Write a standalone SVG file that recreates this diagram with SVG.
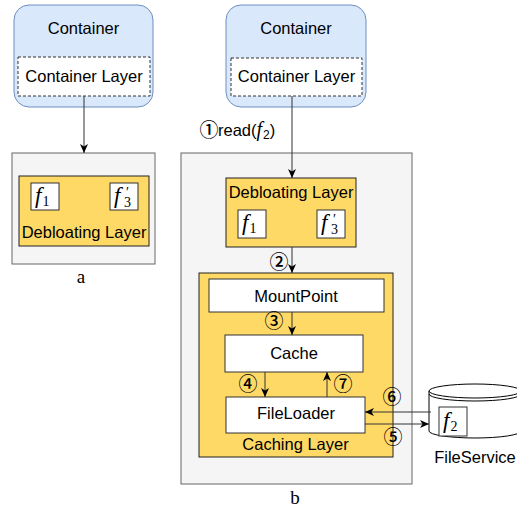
<svg xmlns="http://www.w3.org/2000/svg" width="517" height="510" viewBox="0 0 517 510">
<defs>
<marker id="arr" markerWidth="10" markerHeight="8" refX="9" refY="4" orient="auto" markerUnits="userSpaceOnUse">
<path d="M0,0 L9,4 L0,8 L2.5,4 Z" fill="#000"/>
</marker>
</defs>
<style>
.cont{fill:#dae8fc;stroke:#6c8ebf;stroke-width:1}
.dash{fill:#fff;stroke:#333;stroke-width:1;stroke-dasharray:3,2}
.gray{fill:#f5f5f5;stroke:#666;stroke-width:1}
.yel{fill:#ffd966;stroke:#222;stroke-width:1}
.wbox{fill:#fff;stroke:#333;stroke-width:1}
.t{font-family:"Liberation Sans",Arial,sans-serif;font-size:16.5px;fill:#000;text-anchor:middle}
.m{font-family:"Liberation Serif","Times New Roman",serif;font-size:23px;fill:#000}
.it{font-style:italic}
.sub{font-size:14px;font-style:normal}
.cap{font-family:"Liberation Serif","Times New Roman",serif;font-size:19px;fill:#000;text-anchor:middle}
.num{font-family:"Noto Sans CJK SC","DejaVu Sans",sans-serif;font-size:19px;font-weight:500;fill:#000;text-anchor:middle}
.ln{fill:none;stroke:#333;stroke-width:1;marker-end:url(#arr)}
</style>

<g id="container-a">
<rect class="cont" x="14" y="5" width="139" height="102" rx="15"/>
<text class="t" x="83.5" y="34">Container</text>
<rect class="dash" x="18" y="57" width="132" height="39"/>
<text class="t" x="84" y="82">Container Layer</text>
</g>

<g id="box-a">
<rect class="gray" x="12" y="153" width="143" height="111"/>
<rect class="yel" x="19" y="176" width="130" height="70"/>
<rect class="wbox" x="31" y="183" width="28" height="27"/>
<text class="m" x="35" y="203"><tspan class="it">f</tspan><tspan class="sub" dx="1" dy="3">1</tspan></text>
<rect class="wbox" x="110" y="183" width="28" height="27"/>
<text class="m" x="114" y="203"><tspan class="it">f</tspan><tspan x="126" y="197" font-size="14">′</tspan><tspan class="sub" x="124" y="207">3</tspan></text>
<text class="t" x="84" y="238">Debloating Layer</text>
<text class="cap" x="81" y="283">a</text>
</g>

<g id="container-b">
<rect class="cont" x="226" y="5" width="140" height="102" rx="15"/>
<text class="t" x="296" y="34">Container</text>
<rect class="dash" x="231" y="58" width="131" height="38"/>
<text class="t" x="296.5" y="82">Container Layer</text>
</g>

<g id="box-b">
<rect class="gray" x="181" y="153" width="231" height="331"/>
<text class="cap" x="295" y="504">b</text>
</g>

<g id="debloating-b">
<rect class="yel" x="226" y="178" width="130" height="69"/>
<text class="t" x="291" y="198">Debloating Layer</text>
<rect class="wbox" x="238" y="210" width="28" height="28"/>
<text class="m" x="242" y="230"><tspan class="it">f</tspan><tspan class="sub" dx="1" dy="3">1</tspan></text>
<rect class="wbox" x="317" y="210" width="28" height="28"/>
<text class="m" x="321" y="230"><tspan class="it">f</tspan><tspan x="333" y="224" font-size="14">′</tspan><tspan class="sub" x="331" y="234">3</tspan></text>
</g>

<g id="caching-layer">
<rect class="yel" x="199" y="273" width="194" height="184"/>
<text class="t" x="295.5" y="450">Caching Layer</text>
</g>

<g id="mountpoint">
<rect class="wbox" x="209" y="279" width="175" height="33"/>
<text class="t" x="296" y="302">MountPoint</text>
</g>

<g id="cache">
<rect class="wbox" x="225" y="335" width="138" height="37"/>
<text class="t" x="294" y="359">Cache</text>
</g>

<g id="fileloader">
<rect class="wbox" x="226" y="397" width="139" height="36"/>
<text class="t" x="296" y="419">FileLoader</text>
</g>

<g id="fileservice">
<path d="M429,391 A46,7 0 0 1 521,391 L521,431 A46,7 0 0 1 429,431 Z" fill="#fff" stroke="#000" stroke-width="1"/>
<path d="M429,391 A46,7 0 0 0 521,391 M429,394 A46,7 0 0 0 521,394" fill="none" stroke="#000" stroke-width="1"/>
<rect class="wbox" x="439" y="407" width="28" height="29"/>
<text class="m" x="443" y="428"><tspan class="it">f</tspan><tspan class="sub" dx="1" dy="3">2</tspan></text>
<text class="t" x="475" y="463">FileService</text>
</g>

<g id="connectors">
<line class="ln" x1="84" y1="96" x2="84" y2="153"/>
<line class="ln" x1="292" y1="96" x2="292" y2="178"/>
<line class="ln" x1="292" y1="247" x2="292" y2="273"/>
<line class="ln" x1="292" y1="312" x2="292" y2="335"/>
<line class="ln" x1="265" y1="372" x2="265" y2="397"/>
<line class="ln" x1="327" y1="397" x2="327" y2="372"/>
<line class="ln" x1="431" y1="412" x2="365" y2="412"/>
<line class="ln" x1="365" y1="424" x2="429" y2="424"/>
</g>

<g id="labels">
<text class="num" x="209" y="137">①</text>
<text x="218" y="136" font-family="Liberation Sans,Arial,sans-serif" font-size="16.5">read(<tspan font-family="Liberation Serif,serif" font-style="italic" font-size="20">f</tspan><tspan font-size="12" dx="1" dy="3">2</tspan><tspan dy="-3">)</tspan></text>
<text class="num" x="279" y="269">②</text>
<text class="num" x="274" y="328">③</text>
<text class="num" x="248" y="391">④</text>
<text class="num" x="343" y="391">⑦</text>
<text class="num" x="392" y="404">⑥</text>
<text class="num" x="393" y="444">⑤</text>
</g>
</svg>
